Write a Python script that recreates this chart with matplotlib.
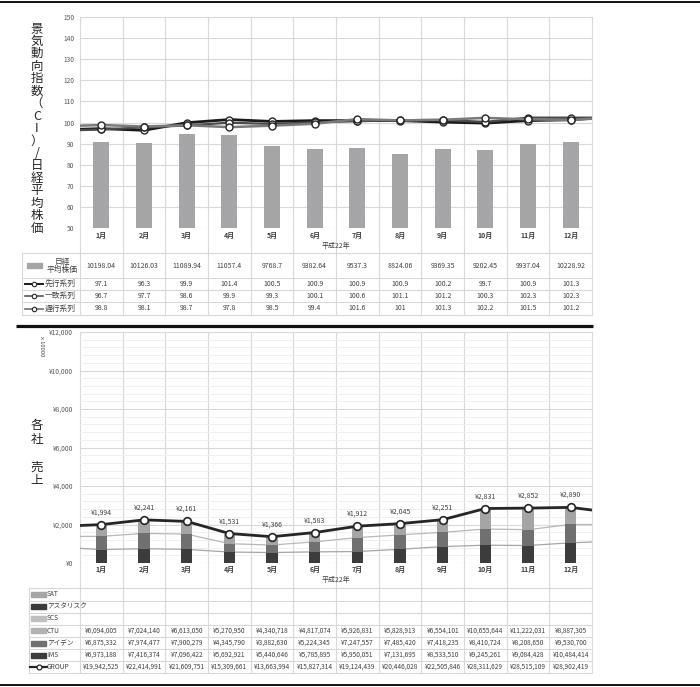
import numpy as np
import matplotlib
matplotlib.use('Agg')
import matplotlib.pyplot as plt
from matplotlib.transforms import blended_transform_factory as btf

plt.rcParams['font.family'] = ['Noto Sans CJK JP', 'DejaVu Sans']

# ---------------- data ----------------
months = ['1月', '2月', '3月', '4月', '5月', '6月', '7月', '8月', '9月', '10月', '11月', '12月']
x_title = '平成22年'
top_title = '景気動向指数（CI）/日経平均株価'
bottom_title = '各社　売上'
unit_label = 'x 10000'

nikkei = [10198.04, 10126.03, 11089.94, 11057.4, 9768.7, 9382.64,
          9537.3, 8824.06, 9369.35, 9202.45, 9937.04, 10228.92]
ci_lead = [97.1, 96.3, 99.9, 101.4, 100.5, 100.9, 100.9, 100.9, 100.2, 99.7, 100.9, 101.3]
ci_coin = [96.7, 97.7, 98.6, 99.9, 99.3, 100.1, 100.6, 101.1, 101.2, 100.3, 102.3, 102.3]
ci_lag = [98.8, 98.1, 98.7, 97.8, 98.5, 99.4, 101.6, 101, 101.3, 102.2, 101.5, 101.2]
# values where the lines leave the plot at the left / right edges
ci_lead_edges = [96.8, 102.0]
ci_coin_edges = [96.4, 102.3]
ci_lag_edges = [98.5, 101.8]

top_series_names = ['日経\n平均株価', '先行系列', '一致系列', '遅行系列']

ctu = [6094005, 7024140, 6613050, 5270950, 4340718, 4817074,
       5926831, 5828913, 6554101, 10655644, 11222031, 8887305]
aiden = [6875332, 7974477, 7900279, 4345790, 3882630, 5224345,
         7247557, 7485420, 7418235, 8410724, 8208650, 9530700]
ims = [6973188, 7416374, 7096422, 5692921, 5440646, 5785895,
       5950051, 7131695, 8533510, 9245261, 9084428, 10484414]
group = [19942525, 22414991, 21609751, 15309661, 13663994, 15827314,
         19124439, 20446028, 22505846, 28311629, 28515109, 28902419]
group_edges = [19500000, 27500000]
ims_edges = [7600000, 10900000]
ims_aiden_edges = [13800000, 20000000]
bottom_series_names = ['SAT', 'アスタリスク', 'SCS', 'CTU', 'アイデン', 'IMS', 'GROUP']
unit = 10000

# ---------------- layout ----------------
W, H = 700, 687
fig = plt.figure(figsize=(W / 100, H / 100), dpi=100)
ov = fig.add_axes([0, 0, 1, 1])
ov.set_xlim(0, W)
ov.set_ylim(H, 0)
ov.axis('off')


def fax(l, t, r, b):
    return fig.add_axes([l / W, 1 - b / H, (r - l) / W, (b - t) / H])


PL, PR = 80, 592
GRID = '#D9D9D9'
TXT = '#404040'
ax = fax(PL, 17, PR, 228)
ax.patch.set_visible(False)
axb = fax(PL, 332, PR, 563)
axb.patch.set_visible(False)

x = np.arange(12)
xe = np.concatenate([[-0.5], x, [11.5]])

# ---------------- top chart ----------------
ax.set_xlim(-0.5, 11.5)
ax.set_ylim(50, 150)
ax.set_yticks(np.arange(50, 151, 10))
ax.grid(axis='y', color=GRID, lw=0.8)
ax.set_axisbelow(True)
for s in ax.spines.values():
    s.set_visible(False)
ax.tick_params(length=0)
ax.tick_params(axis='y', labelsize=4.8, labelcolor='#595959', pad=4)
ax.set_xticks(x)
ax.set_xticklabels(months, fontsize=5, color=TXT, fontweight='bold')
ax.tick_params(axis='x', pad=2.5)

ax2 = ax.twinx()
ax2.set_ylim(0, 25000)
ax2.set_xlim(-0.5, 11.5)
ax2.axis('off')
ax2.bar(x, nikkei, width=0.37, color='#A5A5A7', zorder=2)

line_styles = [
    (ci_lead, ci_lead_edges, '#1A1A1A', 2.0),
    (ci_coin, ci_coin_edges, '#4A4A4A', 1.6),
    (ci_lag, ci_lag_edges, '#7A7A7A', 1.8),
]
for vals, edges, col, lw in line_styles:
    ye = np.concatenate([[edges[0]], vals, [edges[1]]])
    ax.plot(xe, ye, color=col, lw=lw, zorder=3)
for vals, edges, col, lw in line_styles:
    ax.plot(x, vals, ls='none', marker='o', ms=5, mfc='white', mec='#262626', mew=1.0, zorder=4)

ov.text((PL + PR) / 2, 246, x_title, fontsize=5, color=TXT, ha='center', va='center')

# vertical title
for i, ch in enumerate(top_title):
    ov.text(37, 29 + i * 12.45, ch, fontsize=9, color='#262626', ha='center', va='center')

# top table
tt = btf(ax.transData, ov.transData)
top_rows = [253, 278, 290, 302, 315]
for yy in top_rows:
    ov.plot([22, PR], [yy, yy], color=GRID, lw=0.8)
ov.plot([22, 22], [253, 315], color=GRID, lw=0.8)
for k in range(13):
    ov.plot([k - 0.5, k - 0.5], [17, 315], color=GRID, lw=0.8, transform=tt, zorder=0)

ov.add_patch(plt.Rectangle((27, 263), 15, 5, color='#A5A5A7'))
ov.text(62, 266, top_series_names[0], fontsize=5.6, color=TXT, ha='center', va='center',
        linespacing=1.15)
row_cent = [265.5, 284, 296, 308.5]
for i in range(12):
    ov.text(i, row_cent[0], str(nikkei[i]), fontsize=5, color=TXT, ha='center', va='center',
            transform=tt)
for r, (vals, edges, col, lw) in enumerate(line_styles):
    yy = row_cent[r + 1]
    ov.plot([25, 43], [yy, yy], color=col, lw=lw * 0.7)
    ov.plot([34], [yy], marker='o', ms=3.2, mfc='white', mec='#262626', mew=0.8)
    ov.text(45, yy, top_series_names[r + 1], fontsize=5.6, color=TXT, ha='left', va='center')
    for i in range(12):
        ov.text(i, yy, f'{vals[i]:g}', fontsize=5, color=TXT, ha='center', va='center',
                transform=tt)

# separators
ov.plot([16, 593], [326, 326], color='#111111', lw=2.3, solid_capstyle='butt')
ov.plot([0, W], [2, 2], color='#111111', lw=1.4)
ov.plot([0, W], [685, 685], color='#111111', lw=1.4)

# ---------------- bottom chart ----------------
axb.set_xlim(-0.5, 11.5)
axb.set_ylim(0, 12000)
axb.set_yticks(np.arange(0, 12001, 2000))
axb.set_yticklabels([f'¥{v:,}' for v in range(0, 12001, 2000)])
axb.set_yticks(np.arange(0, 12001, 400), minor=True)
axb.grid(axis='y', which='major', color=GRID, lw=0.8)
axb.grid(axis='y', which='minor', color='#EEEEEE', lw=0.6)
axb.set_axisbelow(True)
for s in axb.spines.values():
    s.set_visible(False)
axb.tick_params(which='both', length=0)
axb.tick_params(axis='y', labelsize=4.8, labelcolor='#595959', pad=5)
axb.set_xticks(x)
axb.set_xticklabels(months, fontsize=5, color=TXT, fontweight='bold')
axb.tick_params(axis='x', pad=2)

ims_u = np.array(ims) / unit
aiden_u = np.array(aiden) / unit
ctu_u = np.array(ctu) / unit
group_u = np.array(group) / unit

# thin cumulative lines
lo = np.concatenate([[ims_edges[0]], ims, [ims_edges[1]]]) / unit
hi = np.concatenate([[ims_aiden_edges[0]], np.array(ims) + np.array(aiden), [ims_aiden_edges[1]]]) / unit
axb.plot(xe, lo, color='#A6A6A6', lw=0.9, zorder=2)
axb.plot(xe, hi, color='#B8B8B8', lw=0.9, zorder=2)

bw = 0.27
axb.bar(x, ims_u, width=bw, color='#3C3C3C', zorder=3)
axb.bar(x, aiden_u, width=bw, bottom=ims_u, color='#707070', zorder=3)
axb.bar(x, ctu_u, width=bw, bottom=ims_u + aiden_u, color='#A5A5A5', zorder=3)

ge = np.concatenate([[group_edges[0]], group, [group_edges[1]]]) / unit
axb.plot(xe, ge, color='#262626', lw=2.0, zorder=4)
axb.plot(x, group_u, ls='none', marker='o', ms=5.5, mfc='white', mec='#262626', mew=1.2, zorder=5)
for i in range(12):
    axb.annotate(f'¥{round(group_u[i]):,}', (i, group_u[i]), xytext=(0, 6),
                 textcoords='offset points', ha='center', va='bottom', fontsize=5, color=TXT)

ov.text((PL + PR) / 2, 580, x_title, fontsize=5, color=TXT, ha='center', va='center')
ov.text(42, 346, unit_label, fontsize=4.2, color=TXT, ha='center', va='center', rotation=270)
for i, ch in enumerate(bottom_title):
    ov.text(37, 425 + i * 14, ch, fontsize=9, color='#262626', ha='center', va='center')

# bottom table
tb = btf(axb.transData, ov.transData)
brows = [588, 600.5, 612.5, 624.5, 637, 649, 661, 673]
for yy in brows:
    ov.plot([29, PR], [yy, yy], color=GRID, lw=0.8)
ov.plot([29, 29], [588, 673], color=GRID, lw=0.8)
for k in range(13):
    ov.plot([k - 0.5, k - 0.5], [332, 673], color=GRID, lw=0.8, transform=tb, zorder=0)

key_cols = ['#A6A6A6', '#3C3C3C', '#BFBFBF', '#B2B2B2', '#707070', '#3C3C3C']
table_vals = [None, None, None, ctu, aiden, ims, group]
for r, name in enumerate(bottom_series_names):
    yy = (brows[r] + brows[r + 1]) / 2
    if r < 6:
        ov.add_patch(plt.Rectangle((31, yy - 2.5), 15, 5, color=key_cols[r]))
    else:
        ov.plot([30, 47], [yy, yy], color='#262626', lw=1.6)
        ov.plot([38.5], [yy], marker='o', ms=3.5, mfc='white', mec='#262626', mew=0.9)
    ov.text(47, yy, name, fontsize=4.8, color=TXT, ha='left', va='center')
    vals = table_vals[r]
    if vals is not None:
        for i in range(12):
            ov.text(i, yy, f'¥{vals[i]:,}', fontsize=4.7, color=TXT, ha='center', va='center',
                    transform=tb)

fig.savefig('out.png', dpi=100)
